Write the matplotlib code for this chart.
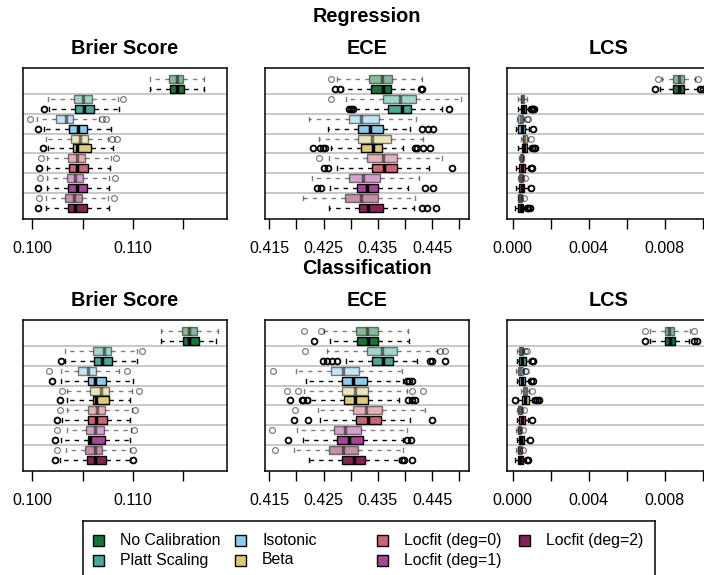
import numpy as np
import matplotlib
matplotlib.use("Agg")
import matplotlib.pyplot as plt
from matplotlib.colors import to_rgba
from matplotlib.patches import Rectangle

plt.rcParams['font.family'] = ['Liberation Sans', 'DejaVu Sans']

methods = ["No Calibration", "Platt Scaling", "Isotonic", "Beta",
           "Locfit (deg=0)", "Locfit (deg=1)", "Locfit (deg=2)"]
colors = ["#117733", "#44AA99", "#88CCEE", "#DDCC77",
          "#CC6677", "#AA4499", "#882255"]

# rows: [whislo, q1, median, q3, whishi]; per method a light box then a solid box
reg_brier = [
    [0.11170, 0.11360, 0.11434, 0.11500, 0.11705],
    [0.11170, 0.11365, 0.11440, 0.11505, 0.11705],
    [0.10159, 0.10417, 0.10507, 0.10596, 0.10854],
    [0.10169, 0.10424, 0.10513, 0.10613, 0.10861],
    [0.10043, 0.10235, 0.10334, 0.10401, 0.10666],
    [0.10115, 0.10360, 0.10450, 0.10545, 0.10785],
    [0.10136, 0.10384, 0.10474, 0.10556, 0.10755],
    [0.10159, 0.10407, 0.10447, 0.10580, 0.10798],
    [0.10142, 0.10358, 0.10447, 0.10523, 0.10778],
    [0.10149, 0.10364, 0.10447, 0.10556, 0.10772],
    [0.10142, 0.10341, 0.10424, 0.10507, 0.10765],
    [0.10142, 0.10358, 0.10440, 0.10540, 0.10765],
    [0.10136, 0.10325, 0.10414, 0.10497, 0.10755],
    [0.10136, 0.10351, 0.10424, 0.10540, 0.10765],
]
reg_brier_out = [[], [], [0.10897], [0.10119], [0.09977, 0.10689, 0.10732],
                 [0.10060], [0.10788, 0.10838], [0.10103], [0.10083, 0.10831],
                 [0.10070], [0.10076, 0.10821], [0.10060], [0.10070, 0.10811],
                 [0.10060]]

reg_ece = [
    [0.42752, 0.43342, 0.43569, 0.43753, 0.44318],
    [0.42863, 0.43372, 0.43599, 0.43735, 0.44262],
    [0.42912, 0.43600, 0.43906, 0.44201, 0.45030],
    [0.43065, 0.43692, 0.43937, 0.44103, 0.44674],
    [0.42237, 0.42967, 0.43188, 0.43526, 0.44195],
    [0.42587, 0.43139, 0.43354, 0.43599, 0.44090],
    [0.42421, 0.43127, 0.43385, 0.43735, 0.44324],
    [0.42636, 0.43182, 0.43403, 0.43581, 0.43968],
    [0.42605, 0.43305, 0.43600, 0.43857, 0.44674],
    [0.42752, 0.43385, 0.43612, 0.43857, 0.44447],
    [0.42280, 0.42967, 0.43219, 0.43538, 0.44262],
    [0.42617, 0.43108, 0.43293, 0.43507, 0.44060],
    [0.42126, 0.42893, 0.43188, 0.43507, 0.44183],
    [0.42605, 0.43151, 0.43323, 0.43599, 0.44164],
]
reg_ece_out = [[0.42630], [0.42709, 0.42801, 0.44287, 0.44305],
               [0.42630], [0.42973, 0.43000, 0.43035, 0.44809],
               [], [0.44318, 0.44416, 0.44520],
               [], [0.42298, 0.42433, 0.42482, 0.42525, 0.44183, 0.44214, 0.44336, 0.44459],
               [0.42421], [0.42507, 0.42587, 0.44870],
               [], [0.42372, 0.42445, 0.44367, 0.44520],
               [], [0.44305, 0.44397, 0.44563]]

reg_lcs = [
    [0.00786, 0.00842, 0.00873, 0.00900, 0.00961],
    [0.00773, 0.00842, 0.00873, 0.00900, 0.00975],
    [0.00030, 0.00042, 0.00051, 0.00060, 0.00074],
    [0.00030, 0.00042, 0.00053, 0.00070, 0.00085],
    [0.00025, 0.00030, 0.00042, 0.00053, 0.00062],
    [0.00018, 0.00030, 0.00047, 0.00065, 0.00088],
    [0.00042, 0.00053, 0.00060, 0.00074, 0.00083],
    [0.00026, 0.00047, 0.00060, 0.00077, 0.00091],
    [0.00033, 0.00039, 0.00047, 0.00056, 0.00062],
    [0.00018, 0.00035, 0.00049, 0.00065, 0.00083],
    [0.00030, 0.00033, 0.00042, 0.00053, 0.00058],
    [0.00016, 0.00035, 0.00047, 0.00062, 0.00079],
    [0.00026, 0.00030, 0.00039, 0.00047, 0.00053],
    [0.00012, 0.00030, 0.00042, 0.00056, 0.00072],
]
reg_lcs_out = [[0.00765, 0.00975], [0.00747, 0.00988, 0.01000],
               [], [0.00095, 0.00100, 0.00108, 0.00112],
               [0.00077, 0.00083], [0.00109],
               [0.00095], [0.00104, 0.00112, 0.00118],
               [], [0.00095, 0.00100],
               [0.00067], [0.00095],
               [0.00058], [0.00074, 0.00083, 0.00091]]

cls_brier = [
    [0.11280, 0.11485, 0.11561, 0.11640, 0.11848],
    [0.11280, 0.11495, 0.11561, 0.11657, 0.11825],
    [0.10330, 0.10604, 0.10710, 0.10785, 0.11040],
    [0.10330, 0.10610, 0.10693, 0.10792, 0.11040],
    [0.10281, 0.10455, 0.10551, 0.10634, 0.10858],
    [0.10281, 0.10551, 0.10627, 0.10736, 0.11000],
    [0.10347, 0.10578, 0.10686, 0.10759, 0.10990],
    [0.10347, 0.10601, 0.10637, 0.10766, 0.10974],
    [0.10347, 0.10551, 0.10644, 0.10726, 0.10990],
    [0.10297, 0.10554, 0.10637, 0.10743, 0.10974],
    [0.10347, 0.10535, 0.10627, 0.10710, 0.10980],
    [0.10281, 0.10551, 0.10578, 0.10726, 0.10967],
    [0.10340, 0.10521, 0.10620, 0.10693, 0.10974],
    [0.10274, 0.10545, 0.10620, 0.10733, 0.10967],
]
cls_brier_out = [[], [], [0.11089], [0.10281], [0.10165, 0.10941], [0.10198],
                 [0.10297, 0.11056], [0.10274], [0.10274, 0.11023], [0.10241],
                 [0.10248, 0.11013], [0.10221], [0.10248, 0.11000],
                 [0.10221, 0.11003]]

cls_ece = [
    [0.42507, 0.43096, 0.43293, 0.43495, 0.44060],
    [0.42617, 0.43108, 0.43311, 0.43507, 0.44078],
    [0.42568, 0.43305, 0.43569, 0.43845, 0.44582],
    [0.42912, 0.43400, 0.43587, 0.43771, 0.44213],
    [0.41991, 0.42636, 0.42863, 0.43157, 0.43937],
    [0.42175, 0.42832, 0.43047, 0.43293, 0.43968],
    [0.42145, 0.42844, 0.43078, 0.43323, 0.44029],
    [0.42249, 0.42881, 0.43078, 0.43323, 0.43894],
    [0.42402, 0.43047, 0.43280, 0.43569, 0.44367],
    [0.42433, 0.43096, 0.43323, 0.43556, 0.44091],
    [0.42016, 0.42691, 0.42893, 0.43182, 0.44029],
    [0.42114, 0.42740, 0.42973, 0.43231, 0.43968],
    [0.41960, 0.42605, 0.42850, 0.43139, 0.43968],
    [0.42237, 0.42844, 0.43065, 0.43262, 0.43894],
]
cls_ece_out = [[0.42145, 0.42452], [0.42329],
               [0.42157, 0.44643, 0.44735],
               [0.42494, 0.42568, 0.42648, 0.42740, 0.44459, 0.44502, 0.44735],
               [0.41574], [0.44029, 0.44072, 0.44121],
               [0.41819, 0.42022, 0.44121, 0.44324],
               [0.41881, 0.42095, 0.42126, 0.42188, 0.44060, 0.44121, 0.44183],
               [0.41973], [0.41960, 0.42218, 0.44502],
               [0.41555], [0.41850, 0.44029, 0.44103],
               [0.41604], [0.43937, 0.43986, 0.44121]]

cls_lcs = [
    [0.00723, 0.00802, 0.00825, 0.00849, 0.00933],
    [0.00723, 0.00802, 0.00828, 0.00854, 0.00930],
    [0.00021, 0.00035, 0.00044, 0.00056, 0.00060],
    [0.00021, 0.00035, 0.00047, 0.00070, 0.00088],
    [0.00018, 0.00026, 0.00039, 0.00053, 0.00058],
    [0.00021, 0.00035, 0.00047, 0.00065, 0.00088],
    [0.00042, 0.00056, 0.00065, 0.00077, 0.00088],
    [0.00030, 0.00047, 0.00065, 0.00088, 0.00100],
    [0.00025, 0.00030, 0.00039, 0.00047, 0.00053],
    [0.00021, 0.00035, 0.00047, 0.00065, 0.00082],
    [0.00020, 0.00026, 0.00035, 0.00044, 0.00050],
    [0.00021, 0.00032, 0.00044, 0.00061, 0.00074],
    [0.00018, 0.00026, 0.00035, 0.00047, 0.00051],
    [0.00012, 0.00030, 0.00039, 0.00056, 0.00068],
]
cls_lcs_out = [[0.00696, 0.00954], [0.00696, 0.00954, 0.00968],
               [0.00065, 0.00074], [0.00100, 0.00109],
               [0.00065, 0.00072], [0.00095, 0.00109],
               [0.00100], [0.00012, 0.00118, 0.00126, 0.00140],
               [0.00058], [0.00100],
               [0.00056], [0.00091],
               [0.00056], [0.00077, 0.00082]]

metric_titles = ["Brier Score", "ECE", "LCS"]
brier_ticks = [0.100, 0.105, 0.110, 0.115]
brier_labels = ["0.100", "", "0.110", ""]
ece_ticks = [0.415, 0.420, 0.425, 0.430, 0.435, 0.440, 0.445, 0.450]
ece_labels = ["0.415", "", "0.425", "", "0.435", "", "0.445", ""]
lcs_ticks = [0.000, 0.002, 0.004, 0.006, 0.008, 0.010]
lcs_labels = ["0.000", "", "0.004", "", "0.008", ""]

W, H = 704, 575
fig = plt.figure(figsize=(W / 100, H / 100), dpi=100)


def draw_panel(ax, stats, outs, xlim, ticks, labels):
    for y in np.arange(2.5, 14, 2):
        ax.axhline(y, color="#c4c4c4", lw=1.3, zorder=0)
    for i, (row, fl) in enumerate(zip(stats, outs)):
        light = i % 2 == 0
        a = 0.5 if light else 1.0
        edge = (0, 0, 0, a)
        st = dict(whislo=row[0], q1=row[1], med=row[2], q3=row[3],
                  whishi=row[4], fliers=fl)
        ax.bxp([st], positions=[i + 1], orientation="horizontal",
               widths=0.8, capwidths=0.4, patch_artist=True,
               boxprops=dict(facecolor=to_rgba(colors[i // 2], a),
                             edgecolor=edge, linewidth=1.0),
               whiskerprops=dict(color=edge, linestyle=(0, (3.2, 3.6)), linewidth=1.0),
               capprops=dict(color=edge, linewidth=1.0),
               medianprops=dict(color=edge, linewidth=2.5, solid_capstyle="butt"),
               flierprops=dict(marker="o", markerfacecolor="none",
                               markeredgecolor=edge, markersize=4.2,
                               markeredgewidth=0.9 if light else 1.3))
    ax.set_xlim(*xlim)
    ax.set_ylim(15.06, -0.06)
    ax.set_yticks([])
    ax.set_xticks(ticks)
    ax.set_xticklabels(labels)
    ax.tick_params(axis="x", length=7, width=1, pad=8.5, labelsize=11.5)
    for s in ax.spines.values():
        s.set_linewidth(1.1)


panels = [
    [(reg_brier, reg_brier_out), (reg_ece, reg_ece_out), (reg_lcs, reg_lcs_out)],
    [(cls_brier, cls_brier_out), (cls_ece, cls_ece_out), (cls_lcs, cls_lcs_out)],
]
xlims = [(0.09908, 0.11934), (0.41420, 0.45179), (-0.000298, 0.010439)]
tick_sets = [(brier_ticks, brier_labels), (ece_ticks, ece_labels), (lcs_ticks, lcs_labels)]
row_tops = [68, 320]
row_titles = ["Regression", "Classification"]
row_title_y = [16, 269]
col_lefts = [23, 265, 507]
pw, ph = 204, 151

for r in range(2):
    fig.text(367 / W, 1 - row_title_y[r] / H, row_titles[r], ha="center",
             va="center", fontsize=14.3, fontweight="bold")
    for c in range(3):
        ax = fig.add_axes([col_lefts[c] / W, 1 - (row_tops[r] + ph) / H, pw / W, ph / H])
        stats, outs = panels[r][c]
        draw_panel(ax, stats, outs, xlims[c], *tick_sets[c])
        fig.text((col_lefts[c] + pw / 2) / W, 1 - (row_tops[r] - 19) / H,
                 metric_titles[c], ha="center", va="center",
                 fontsize=14.3, fontweight="bold")

# legend box along the bottom
leg = fig.add_axes([83 / W, 1 - 585 / H, 572 / W, 64 / H])
leg.set_xlim(0, 572)
leg.set_ylim(64, 0)
leg.set_xticks([])
leg.set_yticks([])
for s in leg.spines.values():
    s.set_linewidth(1.1)
for i, (m, col) in enumerate(zip(methods, colors)):
    cx = 10 + (i // 2) * 142
    cy = 19.7 + (i % 2) * 19.3
    leg.add_patch(Rectangle((cx, cy - 5.5), 11, 11, facecolor=col,
                            edgecolor="black", lw=1.0))
    leg.text(cx + 27, cy, m, va="center", ha="left", fontsize=11.4)

fig.savefig("out.png", dpi=100)
